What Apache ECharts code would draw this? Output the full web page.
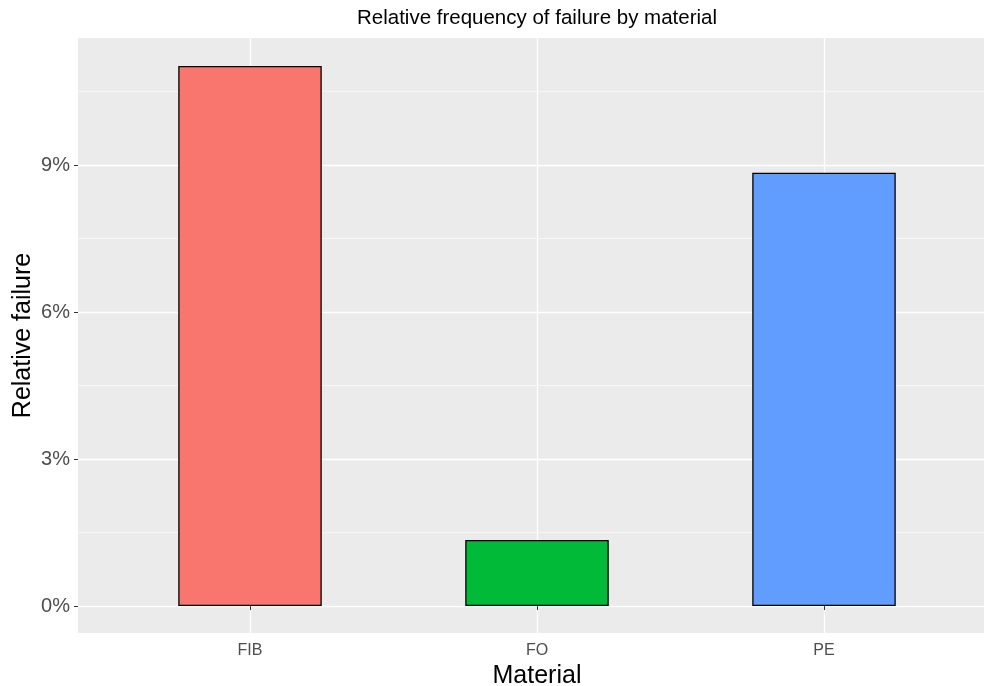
<!DOCTYPE html>
<html>
<head>
<meta charset="utf-8">
<script src="https://cdn.jsdelivr.net/npm/echarts@6/dist/echarts.min.js"></script>
<style>
  html, body { margin: 0; padding: 0; background: #fff; }
  #main { width: 984px; height: 686px; }
</style>
</head>
<body>
<div id="main"></div>
<script>
  // data (percent of failures per material)
  const categories = ['FIB', 'FO', 'PE'];
  const failureShare = [11.02, 1.35, 8.84];
  const barColors = ['#F8766D', '#00BA38', '#619CFF'];
  const yTicks = [0, 3, 6, 9];

  const font = 'Liberation Sans, Arial, sans-serif';

  const myChart = echarts.init(document.getElementById('main'));

  const option = {
    animation: false,
    textStyle: { fontFamily: font },
    title: {
      text: 'Relative frequency of failure by material',
      left: 537,
      top: 8,
      padding: 0,
      textAlign: 'center',
      textStyle: { fontSize: 20.5, fontWeight: 'normal', color: '#000', fontFamily: font }
    },
    grid: [
      // panel background
      { left: 78, right: 0, top: 38, bottom: 53, show: true, backgroundColor: '#EBEBEB', borderWidth: 0, outerBoundsMode: 'none' },
      // horizontal grid lines (0 sits at the bottom of this one)
      { left: 78, right: 0, top: 18, bottom: 80, outerBoundsMode: 'none' },
      // bars + x axis
      { left: 250, right: 160, top: 38, bottom: 53, outerBoundsMode: 'none' }
    ],
    xAxis: [
      { gridIndex: 0, type: 'value', show: false },
      { gridIndex: 1, type: 'value', show: false },
      {
        gridIndex: 2,
        type: 'category',
        data: categories,
        boundaryGap: false,
        axisLine: { show: false },
        axisTick: { show: true, length: 4, lineStyle: { color: '#333', width: 1 } },
        axisLabel: { fontSize: 16, color: '#4D4D4D', margin: 10, fontFamily: font },
        splitLine: { show: true, lineStyle: { color: '#fff', width: 1.3 } },
        name: 'Material',
        nameLocation: 'middle',
        nameGap: 28,
        nameTextStyle: { fontSize: 25, color: '#000', fontFamily: font }
      }
    ],
    yAxis: [
      {
        gridIndex: 0,
        type: 'value',
        min: 0, max: 1,
        axisLine: { show: false },
        axisTick: { show: false },
        axisLabel: { show: false },
        splitLine: { show: false },
        name: 'Relative failure',
        nameLocation: 'middle',
        nameGap: 42,
        nameTextStyle: { fontSize: 25, color: '#000', fontFamily: font }
      },
      {
        gridIndex: 1,
        type: 'value',
        min: 0, max: 12, interval: 3,
        axisLine: { show: false },
        axisTick: { show: true, length: 4, customValues: yTicks, lineStyle: { color: '#333', width: 1 } },
        axisLabel: {
          fontSize: 20, color: '#4D4D4D', margin: 8, fontFamily: font,
          customValues: yTicks,
          formatter: '{value}%'
        },
        splitLine: { show: true, lineStyle: { color: '#fff', width: 1.3 } }
      },
      {
        gridIndex: 1,
        type: 'value',
        min: 0, max: 12, interval: 1.5,
        axisLine: { show: false },
        axisTick: { show: false },
        axisLabel: { show: false },
        splitLine: { show: true, lineStyle: { color: '#fff', width: 0.6 } }
      },
      { gridIndex: 2, type: 'value', min: -0.55, max: 11.59, show: false }
    ],
    series: [{
      type: 'bar',
      xAxisIndex: 2,
      yAxisIndex: 3,
      barWidth: '50%',
      itemStyle: { borderColor: '#000', borderWidth: 1.3 },
      data: failureShare.map((v, i) => ({ value: v, itemStyle: { color: barColors[i] } }))
    }]
  };

  myChart.setOption(option);
</script>
</body>
</html>
